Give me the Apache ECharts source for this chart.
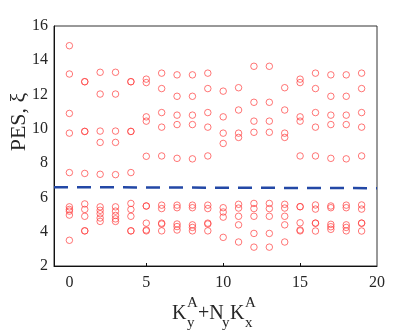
<!DOCTYPE html>
<html>
<head>
<meta charset="utf-8">
<script src="https://cdn.jsdelivr.net/npm/echarts@6/dist/echarts.min.js"></script>
<style>
  html, body { margin: 0; padding: 0; background: #fff; }
  #chart { width: 415px; height: 335px; }
</style>
</head>
<body>
<div id="chart"></div>
<script>
// PES levels per momentum index k = Ky + Ny*Kx
const kValues = [0, 1, 2, 3, 4, 5, 6, 7, 8, 9, 10, 11, 12, 13, 14, 15, 16, 17, 18, 19];
const pesLevels = [
  [14.85, 13.2, 10.9, 9.75, 7.45, 5.45, 5.3, 5.2, 4.97, 3.5],
  [12.75, 12.75, 9.85, 9.85, 7.4, 5.62, 5.3, 4.9, 4.05, 4.05],
  [13.3, 12.03, 9.87, 9.21, 7.35, 5.45, 5.25, 5.05, 4.8, 4.6],
  [13.3, 12.03, 9.87, 9.21, 7.33, 5.45, 5.2, 4.95, 4.75, 4.6],
  [12.75, 12.75, 9.85, 9.85, 7.45, 5.65, 5.3, 4.9, 4.05, 4.05],
  [12.9, 12.7, 10.7, 10.45, 8.4, 5.5, 5.5, 4.5, 4.1, 4.05],
  [13.25, 12.35, 10.95, 10.1, 8.42, 5.55, 5.35, 4.5, 4.45, 4.05],
  [13.15, 11.9, 10.8, 10.25, 8.28, 5.55, 5.4, 4.45, 4.3, 4.1],
  [13.15, 11.9, 10.8, 10.25, 8.25, 5.55, 5.4, 4.4, 4.25, 4.05],
  [13.25, 12.35, 10.95, 10.1, 8.42, 5.55, 5.35, 4.5, 4.45, 4.05],
  [12.2, 10.7, 9.75, 9.15, 5.4, 5.15, 4.85, 3.67],
  [12.4, 11.1, 9.75, 9.5, 5.6, 5.38, 4.9, 4.4, 3.4],
  [13.65, 11.55, 10.45, 9.8, 5.65, 5.35, 4.9, 3.9, 3.1],
  [13.65, 11.55, 10.45, 9.8, 5.65, 5.35, 4.9, 3.9, 3.1],
  [12.4, 11.1, 9.75, 9.5, 5.6, 5.38, 4.9, 4.4, 3.4],
  [12.9, 12.7, 10.7, 10.45, 8.42, 5.46, 5.46, 4.52, 4.1, 4.05],
  [13.25, 12.35, 10.95, 10.1, 8.42, 5.56, 5.32, 4.5, 4.5, 4.04],
  [13.15, 11.9, 10.8, 10.25, 8.28, 5.5, 5.4, 4.43, 4.29, 4.14],
  [13.15, 11.9, 10.8, 10.25, 8.25, 5.55, 5.4, 4.4, 4.25, 4.05],
  [13.25, 12.35, 10.95, 10.1, 8.42, 5.56, 5.32, 4.5, 4.5, 4.04]
];
// entanglement gap
const gapX = [-1, 20];
const gapY = [6.6, 6.54];

const xLabels = [0, 5, 10, 15, 20];
const xTicks = [5, 10, 15];

const points = [];
kValues.forEach((k, i) => {
  pesLevels[i].forEach((v) => points.push([k, v]));
});

const serif = 'Liberation Serif';
const labelColor = '#262626';

const chart = echarts.init(document.getElementById('chart'));
chart.setOption({
  animation: false,
  backgroundColor: '#fff',
  grid: {
    left: 54, right: 38, top: 26, bottom: 69,
    show: true, borderColor: '#333', borderWidth: 1
  },
  xAxis: {
    type: 'value',
    min: -1,
    max: 20,
    axisLine: { onZero: false, lineStyle: { color: '#111', width: 1 } },
    axisTick: { inside: true, length: 3, customValues: xTicks, lineStyle: { color: '#111' } },
    axisLabel: { customValues: xLabels, margin: 9, fontFamily: serif, fontSize: 16, color: labelColor },
    splitLine: { show: false }
  },
  yAxis: {
    type: 'value',
    min: 2,
    max: 16,
    interval: 2,
    axisLine: { show: true, onZero: false, lineStyle: { color: '#111', width: 1 } },
    axisTick: { show: false },
    axisLabel: { margin: 6, fontFamily: serif, fontSize: 16, color: labelColor },
    splitLine: { show: false }
  },
  series: [
    {
      type: 'scatter',
      data: points,
      symbol: 'circle',
      symbolSize: 6.5,
      itemStyle: { color: 'rgba(0,0,0,0)', borderColor: '#ff4040', borderWidth: 0.9 },
      z: 2
    },
    {
      type: 'line',
      data: gapX.map((x, i) => [x, gapY[i]]),
      symbol: 'none',
      lineStyle: { color: '#2348a6', width: 2.5, type: [14, 9] },
      z: 3
    }
  ],
  graphic: [
    {
      type: 'text', x: 19, y: 122, rotation: Math.PI / 2,
      style: { text: 'PES, ξ', font: '22px "Liberation Serif"', fill: labelColor, align: 'center', verticalAlign: 'middle' }
    },
    {
      type: 'group', left: 172, top: 296,
      children: [
        { type: 'text', x: 0, y: 8, style: { text: 'K', font: '20px "Liberation Serif"', fill: labelColor } },
        { type: 'text', x: 15, y: 0, style: { text: 'A', font: '15px "Liberation Serif"', fill: labelColor } },
        { type: 'text', x: 15, y: 20, style: { text: 'y', font: '15px "Liberation Serif"', fill: labelColor } },
        { type: 'text', x: 26, y: 8, style: { text: '+N', font: '20px "Liberation Serif"', fill: labelColor } },
        { type: 'text', x: 50, y: 20, style: { text: 'y', font: '15px "Liberation Serif"', fill: labelColor } },
        { type: 'text', x: 58, y: 8, style: { text: 'K', font: '20px "Liberation Serif"', fill: labelColor } },
        { type: 'text', x: 73, y: 0, style: { text: 'A', font: '15px "Liberation Serif"', fill: labelColor } },
        { type: 'text', x: 73, y: 20, style: { text: 'x', font: '15px "Liberation Serif"', fill: labelColor } }
      ]
    }
  ]
});
</script>
</body>
</html>
